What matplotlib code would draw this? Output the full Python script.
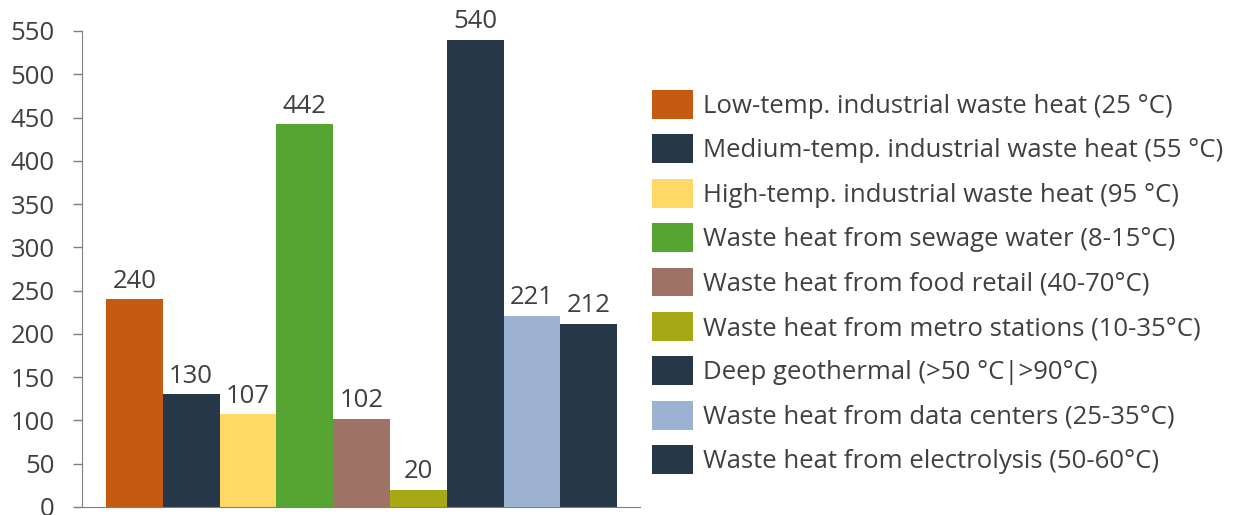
import matplotlib
matplotlib.use('Agg')
import matplotlib.pyplot as plt
from matplotlib.patches import Patch

# Data
labels = [
    'Low-temp. industrial waste heat (25 °C)',
    'Medium-temp. industrial waste heat (55 °C)',
    'High-temp. industrial waste heat (95 °C)',
    'Waste heat from sewage water (8-15°C)',
    'Waste heat from food retail (40-70°C)',
    'Waste heat from metro stations (10-35°C)',
    'Deep geothermal (>50 °C|>90°C)',
    'Waste heat from data centers (25-35°C)',
    'Waste heat from electrolysis (50-60°C)',
]
values = [240, 130, 107, 442, 102, 20, 540, 221, 212]
colors = ['#C55A11', '#263847', '#FFD966', '#56A533', '#9E7366',
          '#A6A816', '#263847', '#9DB1D1', '#263847']
yticks = list(range(0, 551, 50))

text_color = '#404040'
fs = 18.5
plt.rcParams['font.family'] = ['Open Sans', 'DejaVu Sans']

fig = plt.figure(figsize=(12.36, 5.15), dpi=100)
ax = fig.add_axes([82 / 1236, 1 - 507 / 515, (640 - 82) / 1236, (507 - 31) / 515])

x = list(range(len(values)))
ax.bar(x, values, width=1.0, color=colors, linewidth=0)

# value labels above each bar
for xi, v in zip(x, values):
    ax.annotate(str(v), (xi, v), xytext=(0, 4), textcoords='offset points',
                ha='center', va='bottom', fontsize=fs, color=text_color)

ax.set_xlim(-0.92, 8.9)
ax.set_ylim(0, 550)
ax.set_yticks(yticks)
ax.set_xticks([])
ax.tick_params(axis='y', length=6.5, width=1, color='#7F7F7F',
               labelsize=fs, labelcolor=text_color, pad=13)

for side in ['top', 'right']:
    ax.spines[side].set_visible(False)
ax.spines['left'].set_color('#7F7F7F')
ax.spines['bottom'].set_color('#7F7F7F')

handles = [Patch(facecolor=c, edgecolor='none') for c in colors]
fig.legend(handles, labels, loc='upper left',
           bbox_to_anchor=(652 / 1236, 1 - 90 / 515),
           frameon=False, fontsize=fs, labelcolor=text_color,
           handlelength=1.6, handleheight=1.35, handletextpad=0.4,
           labelspacing=0.6, borderaxespad=0, borderpad=0)

fig.savefig('out.png', dpi=100)
